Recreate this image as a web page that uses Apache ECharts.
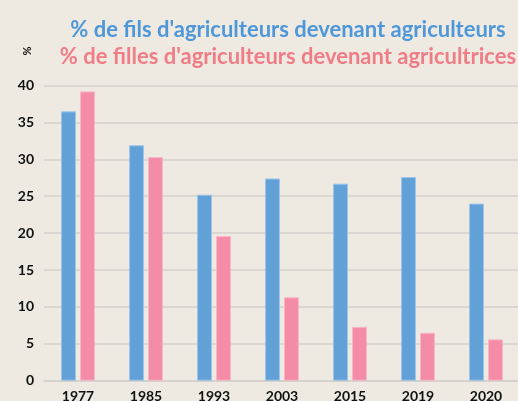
<!DOCTYPE html>
<html><head><meta charset="utf-8">
<script src="https://cdn.jsdelivr.net/npm/echarts@6/dist/echarts.min.js"></script>
<style>html,body{margin:0;padding:0;background:#EEEAE2;}#c{width:518px;height:401px;}</style>
</head><body><div id="c"></div>
<script>
const categories = ['1977','1985','1993','2003','2015','2019','2020'];
const fils = [36.5, 31.9, 25.2, 27.4, 26.7, 27.6, 24.0];
const filles = [39.2, 30.3, 19.6, 11.3, 7.3, 6.5, 5.6];
const yTicks = [0, 5, 10, 15, 20, 25, 30, 35, 40];
const nameFils = "% de fils d'agriculteurs devenant agriculteurs";
const nameFilles = "% de filles d'agriculteurs devenant agricultrices";

const chart = echarts.init(document.getElementById('c'), null, {renderer:'canvas'});
const font = 'Lato, "Open Sans", sans-serif';
chart.setOption({
  backgroundColor: '#EEEAE2',
  animation: false,
  title: {
    text: '{a|' + nameFils + '}\n{b|' + nameFilles + '}',
    left: 283, top: 11, textAlign: 'center',
    textStyle: {
      rich: {
        a: {color:'#4E97D9', fontSize: 22, fontWeight:'bold', fontFamily: font, lineHeight: 27, align:'center'},
        b: {color:'#F07C86', fontSize: 22, fontWeight:'bold', fontFamily: font, lineHeight: 27, align:'center'}
      }
    }
  },
  graphic: [{
    type:'text', x: 27, y: 51, rotation: -Math.PI/2,
    style: {text:'%', fill:'#111', font:'bold 11px ' + font, align:'center', verticalAlign:'middle'}
  }],
  grid: {left: 44, right: -2, top: 85.5, bottom: 20.3, containLabel: false, outerBoundsMode: 'none'},
  xAxis: {
    type:'category', data: categories,
    axisLine: {lineStyle:{color:'#D3D1CC', width:1.5}},
    axisTick: {show:false},
    axisLabel: {color:'#111', fontWeight:'bold', fontSize:14, fontFamily: font, margin: 9}
  },
  yAxis: {
    type:'value', min: yTicks[0], max: yTicks[yTicks.length-1], interval: 5,
    axisLine: {show:false}, axisTick:{show:false},
    splitLine: {lineStyle:{color:'#D3D1CC', width:1.5}},
    axisLabel: {color:'#111', fontWeight:'bold', fontSize:14, fontFamily: font, margin: 10}
  },
  series: [
    {name: nameFils, type:'bar', data: fils, barWidth: 15, barGap: '27%',
     itemStyle: {color:'#62A1D7', borderColor:'#9CC5EA', borderWidth:1}},
    {name: nameFilles, type:'bar', data: filles, barWidth: 15,
     itemStyle: {color:'#F48BA7', borderColor:'#F8B6C7', borderWidth:1}}
  ]
});
</script></body></html>
